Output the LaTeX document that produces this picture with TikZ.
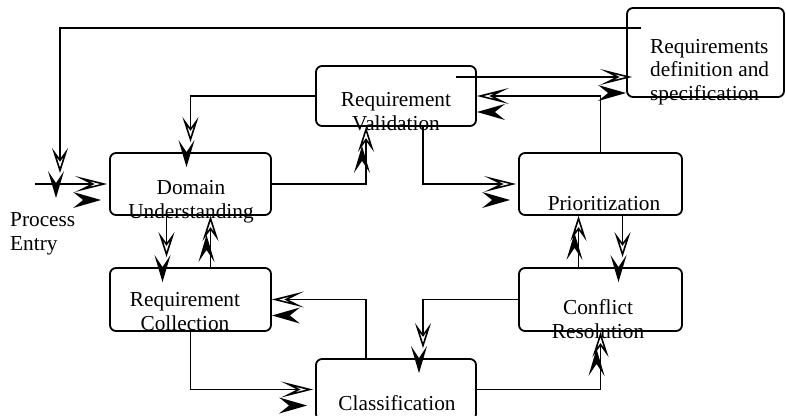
\documentclass[tikz,border=0pt]{standalone}
\usepackage{fontspec}
\setmainfont{Liberation Serif}
\usetikzlibrary{arrows.meta,calc}
\tikzset{
  box/.style={draw, rounded corners=6pt, line width=1.8pt, inner sep=0pt},
  conn/.style={line width=1.6pt},
  arrH/.style={conn, -{Stealth[fill=white,length=32pt,width=16pt,inset=16pt]}},
  arrV/.style={conn, -{Stealth[fill=white,length=25pt,width=16pt,inset=11pt]}},
  txt/.style={font=\fontsize{21.3}{23.5}\selectfont, inner sep=0pt, align=center, anchor=base},
  fh/.pic={\fill (0,0) -- (-28,-8) -- (-18,0) -- (-28,8) -- cycle;},
  fv/.pic={\fill (0,0) -- (-27,-8) -- (-15,0) -- (-27,8) -- cycle;}
}
\begin{document}
\begin{tikzpicture}[x=1pt,y=-1pt]
\useasboundingbox (0,0) rectangle (786,415);
\clip (0,0) rectangle (786,415);
% boxes
\node[box, minimum width=161pt, minimum height=62pt] (dom) at (190.5,184) {};
\node[box, minimum width=160pt, minimum height=60pt] (val) at (396,96) {};
\node[box, minimum width=157pt, minimum height=89pt] (spec) at (705.5,52.5) {};
\node[box, minimum width=163pt, minimum height=62pt] (pri) at (600.5,184) {};
\node[box, minimum width=161pt, minimum height=63pt] (col) at (190.5,299.5) {};
\node[box, minimum width=163pt, minimum height=63pt] (con) at (600.5,299.5) {};
\node[box, minimum width=160pt, minimum height=61pt] (cls) at (396,389.5) {};
% texts (anchor = baseline of last line)
\node[txt] (domt) at (191,218) {Domain\\Understanding};
\node[txt] (valt) at (396,130) {Requirement\\Validation};
\node[txt, align=left, anchor=base west] (spect) at (650,100) {Requirements\\definition and\\specification};
\node[txt] (prit) at (604,210) {Prioritization};
\node[txt] (colt) at (185,330) {Requirement\\Collection};
\node[txt] (cont) at (598,338) {Conflict\\Resolution};
\node[txt] (clst) at (397,410) {Classification};
\node[txt, align=left, anchor=base west] (entryt) at (10,250) {Process\\Entry};
% free ends
\coordinate (entry) at (35,184);
\coordinate (merge) at (60,184);
\coordinate (d0) at ($(val.east)+(-21,-19)$);
% connectors
\draw[arrH, shorten >=2pt] (entry) -- (dom.west);
\draw[arrV, shorten >=11pt] ($(spec.north west)+(15,21)$) -| (merge);
\draw[arrV, shorten >=10pt] (val.west) -| (dom.north);
\draw[arrV] (dom.east) -| ($(val.south)+(-30,0)$);
\draw[arrH, shorten >=-6pt] (d0) -- (d0 -| spec.west);
\draw[arrH] (pri.north) |- (val.east);
\draw[arrH, shorten >=2pt] ($(val.south)+(27,0)$) |- (pri.west);
\draw[arrV, shorten >=10pt] ($(dom.south)+(-24,0)$) -- ($(col.north)+(-24,0)$);
\draw[arrV] ($(col.north)+(20,0)$) -- ($(dom.south)+(20,0)$);
\draw[arrH] ($(cls.north)+(-30,0)$) |- (col.east);
\draw[arrH, shorten >=2pt] (col.south) |- (cls.west);
\draw[arrV] (cls.east) -| (con.south);
\draw[arrV, shorten >=10pt] (con.west) -| ($(cls.north)+(27,0)$);
\draw[arrV] ($(con.north)+(-22,0)$) -- ($(pri.south)+(-22,0)$);
\draw[arrV, shorten >=10pt] ($(pri.south)+(22,0)$) -- ($(con.north)+(22,0)$);
% offset filled heads
\pic at ($(dom.west)+(-8,16)$) {fh};
\pic[rotate=-90] at (56,198) {fv};
\pic[rotate=-90] at ($(dom.north)+(-4,15)$) {fv};
\pic[rotate=90] at ($(val.south)+(-34,19)$) {fv};
\pic at ($(spec.west |- d0)+(0,16)$) {fh};
\pic[rotate=180] at ($(val.east)+(0,16)$) {fh};
\pic at ($(pri.west)+(-8,16)$) {fh};
\pic[rotate=-90] at ($(col.north)+(-28,15)$) {fv};
\pic[rotate=90] at ($(dom.south)+(16,19)$) {fv};
\pic[rotate=180] at ($(col.east)+(0,16)$) {fh};
\pic at ($(cls.west)+(-8,16)$) {fh};
\pic[rotate=90] at ($(con.south)+(-4,17)$) {fv};
\pic[rotate=-90] at ($(cls.north)+(23,15)$) {fv};
\pic[rotate=90] at ($(pri.south)+(-26,17)$) {fv};
\pic[rotate=-90] at ($(con.north)+(18,15)$) {fv};
\end{tikzpicture}
\end{document}
